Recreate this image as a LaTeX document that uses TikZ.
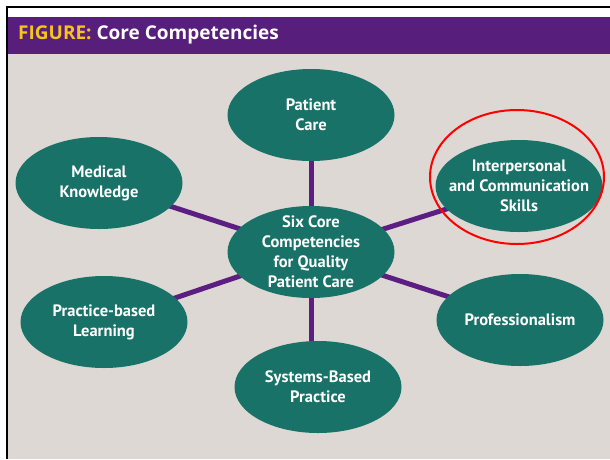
\documentclass[tikz,border=0pt]{standalone}
\usepackage{fontspec}
\setmainfont{PT Sans}
\newfontfamily\titlefont{Open Sans}
\usetikzlibrary{shapes.geometric}
\definecolor{panelbg}{RGB}{221,216,211}
\definecolor{barpurple}{RGB}{88,30,124}
\definecolor{linkpurple}{RGB}{92,30,130}
\definecolor{ovalgreen}{RGB}{24,114,104}
\definecolor{titleyellow}{RGB}{247,196,24}
\pgfdeclarelayer{backdrop}
\pgfdeclarelayer{links}
\pgfsetlayers{backdrop,links,main}
\begin{document}
\begin{tikzpicture}[x=1pt,y=-1pt,
  ovaltext/.style={text=white, font=\bfseries\fontsize{16.5}{20}\selectfont,
    align=center, inner sep=0pt},
  comp/.style={ellipse, fill=ovalgreen, inner sep=0pt,
    minimum width=167pt, minimum height=92pt,
    label={[ovaltext]center:#1}},
  link/.style={draw=linkpurple, line width=5pt},
  ring/.style={ellipse, draw=red, line width=2pt, inner sep=0pt,
    minimum width=174pt, minimum height=134pt}]
\useasboundingbox (0,0) rectangle (610,459);

% frame, panel and title bar
\begin{pgfonlayer}{backdrop}
  \fill[white] (0,0) rectangle (610,459);
  \fill[panelbg] (7.5,17) rectangle (610,459);
  \fill[barpurple] (7.5,17) rectangle (610,54);
  \draw[black, line width=2pt] (610,6.5) -- (6.5,6.5) -- (6.5,459);
\end{pgfonlayer}
\node[anchor=base west, inner sep=0pt, font=\titlefont\bfseries\fontsize{19}{22}\selectfont]
  (title) at (18,39.5) {\textcolor{titleyellow}{FIGURE:} \textcolor{white}{Core Competencies}};

% competencies
\node[comp={Six Core\\Competencies\\for Quality\\Patient Care}] (core) at (311,252) {};
\node[comp={Patient\\Care}] (care) at (311,115) {};
\node[comp={Medical\\Knowledge}] (know) at (99,183) {};
\node[comp={Interpersonal\\and Communication\\Skills}] (comm) at (519,186) {};
\node[comp={Practice-based\\Learning}] (learn) at (104,322) {};
\node[comp={Professionalism}] (prof) at (520,320) {};
\node[comp={Systems-Based\\Practice}] (sys) at (318,387) {};

% highlight ring
\node[ring] (mark) at (517,177) {};

% spokes
\begin{pgfonlayer}{links}
  \draw[link] (core.center) -- (care.center);
  \draw[link] (core.center) -- (core.center |- sys.center);
  \draw[link] (core.center) -- (know.center);
  \draw[link] (core.center) -- (comm.center);
  \draw[link] (core.center) -- (learn.center);
  \draw[link] (core.center) -- (prof.center);
\end{pgfonlayer}
\end{tikzpicture}
\end{document}
